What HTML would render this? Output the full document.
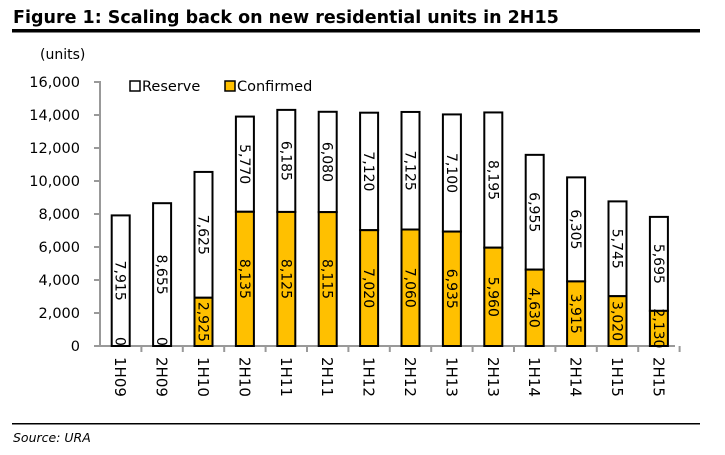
<!DOCTYPE html>
<html><head><style>
body{margin:0;background:#fff;width:725px;height:451px;overflow:hidden;font-family:"DejaVu Sans","Liberation Sans",sans-serif}
</style></head><body>
<svg width="725" height="451" xmlns="http://www.w3.org/2000/svg" font-family="DejaVu Sans, Liberation Sans, sans-serif">
<text x="13" y="23" font-size="17.5" font-weight="bold" fill="#000">Figure 1: Scaling back on new residential units in 2H15</text>
<rect x="12" y="29" width="688" height="3.5" fill="#000"/>
<text x="40" y="59" font-size="14">(units)</text>
<g font-size="14.5" text-anchor="end" fill="#000">
<text x="80" y="87">16,000</text><text x="80" y="120">14,000</text><text x="80" y="153">12,000</text>
<text x="80" y="186">10,000</text><text x="80" y="219">8,000</text><text x="80" y="252">6,000</text>
<text x="80" y="285">4,000</text><text x="80" y="318">2,000</text><text x="80" y="351">0</text>
</g>
<g stroke="#999" stroke-width="2">
<line x1="100" y1="81" x2="100" y2="346"/>
<line x1="94" y1="82" x2="100" y2="82"/><line x1="94" y1="115" x2="100" y2="115"/><line x1="94" y1="148" x2="100" y2="148"/>
<line x1="94" y1="181" x2="100" y2="181"/><line x1="94" y1="214" x2="100" y2="214"/><line x1="94" y1="247" x2="100" y2="247"/>
<line x1="94" y1="280" x2="100" y2="280"/><line x1="94" y1="313" x2="100" y2="313"/>
<line x1="94" y1="346" x2="675" y2="346"/>
</g>
<g id="bars"></g>
<rect x="130" y="81" width="10" height="10" fill="#fff" stroke="#000" stroke-width="1.5"/>
<text x="142" y="91" font-size="14.5">Reserve</text>
<rect x="225" y="81" width="10" height="10" fill="#FFC000" stroke="#000" stroke-width="1.5"/>
<text x="237" y="91" font-size="14.5">Confirmed</text>
<rect x="12" y="423" width="688" height="1.5" fill="#000"/>
<text x="13" y="442" font-size="12.5" font-style="italic">Source: URA</text>
</svg>
<script>
var d=[["1H09",0,7915],["2H09",0,8655],["1H10",2925,7625],["2H10",8135,5770],["1H11",8125,6185],["2H11",8115,6080],["1H12",7020,7120],["2H12",7060,7125],["1H13",6935,7100],["2H13",5960,8195],["1H14",4630,6955],["2H14",3915,6305],["1H15",3020,5745],["2H15",2130,5695]];
var g=document.getElementById("bars"),h="",k=0.0165,b=346;
function f(n){return n.toLocaleString("en-US")}
d.forEach(function(r,i){
 var cx=100+41.4*i+20.7,x=cx-9;
 var yc=b-r[1]*k,yt=yc-r[2]*k;
 h+='<rect x="'+x+'" y="'+yt+'" width="18" height="'+(r[2]*k)+'" fill="#fff" stroke="#000" stroke-width="2"/>';
 if(r[1]>0)h+='<rect x="'+x+'" y="'+yc+'" width="18" height="'+(r[1]*k)+'" fill="#FFC000" stroke="#000" stroke-width="2"/>';
 h+='<line x1="'+(cx+20.7)+'" y1="346" x2="'+(cx+20.7)+'" y2="352" stroke="#999" stroke-width="2"/>';
 var ym=(yt+yc)/2;
 h+='<text transform="translate('+(cx-5)+','+ym+') rotate(90)" font-size="14" text-anchor="middle">'+f(r[2])+'</text>';
 if(r[1]>0){var ym2=(yc+b)/2;h+='<text transform="translate('+(cx-5)+','+ym2+') rotate(90)" font-size="14" text-anchor="middle">'+f(r[1])+'</text>';}
 else h+='<text transform="translate('+(cx-5)+',337) rotate(90)" font-size="14">0</text>';
 h+='<text transform="translate('+(cx-5.5)+',357) rotate(90)" font-size="15">'+r[0]+'</text>';
});
g.innerHTML=h;
</script>
</body></html>
